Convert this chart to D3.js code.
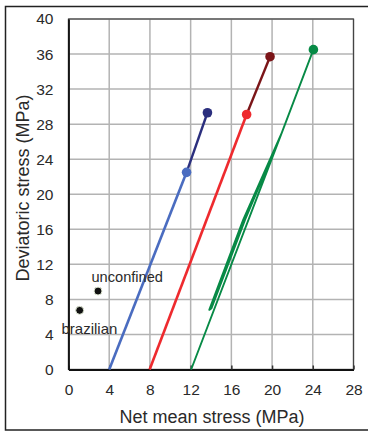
<!DOCTYPE html>
<html><head><meta charset="utf-8">
<script src="https://cdn.jsdelivr.net/npm/d3@7"></script>
<style>body{margin:0;background:#fff;}svg{display:block;font-family:"Liberation Sans",Arial,sans-serif;}</style>
</head><body>
<script>
const xTicks = [0,4,8,12,16,20,24,28];
const yTicks = [0,4,8,12,16,20,24,28,32,36,40];
// stress paths: [net mean stress, deviatoric stress]
const blueLow = [[4.0,0],[11.6,22.5]];
const blueHigh = [[11.6,22.5],[13.65,29.3]];
const redLow = [[7.97,0],[17.5,29.1]];
const redHigh = [[17.5,29.1],[19.8,35.7]];
const greenPath = [[12.05,0],[20.95,27.0],[17.17,17.1],[13.83,6.8],[14.05,7.0],[17.35,17.1],[20.95,27.0],[24.06,36.5]];
const markers = [
  {x:11.6,y:22.5,c:"#4a6cc0"},
  {x:13.65,y:29.3,c:"#2b2f7e"},
  {x:17.5,y:29.1,c:"#ee2a2e"},
  {x:19.8,y:35.7,c:"#7b1518"},
  {x:24.06,y:36.5,c:"#078a46"}
];
const blackPts = [{x:2.9,y:8.95,label:"unconfined"},{x:1.1,y:6.75,label:"brazilian"}];

const W=368,H=433;
const svg=d3.select("body").append("svg").attr("width",W).attr("height",H);
svg.append("rect").attr("x",5.5).attr("y",6.5).attr("width",370).attr("height",423.5)
  .attr("fill","none").attr("stroke","#222").attr("stroke-width",1.5);

const L=68.5,R=353.5,T=19,B=369.5;
const x=d3.scaleLinear().domain([0,28]).range([L,R]);
const y=d3.scaleLinear().domain([0,40]).range([B,T]);

// grid
const g=svg.append("g");
g.selectAll("line.vg").data(xTicks).join("line").attr("x1",d=>x(d)).attr("x2",d=>x(d)).attr("y1",T).attr("y2",B)
  .attr("stroke","#b3b3b3").attr("stroke-width",1.5);
g.selectAll("line.hg").data(yTicks).join("line").attr("y1",d=>y(d)).attr("y2",d=>y(d)).attr("x1",L).attr("x2",R)
  .attr("stroke","#b3b3b3").attr("stroke-width",1.5);
// plot border
svg.append("rect").attr("x",L).attr("y",T).attr("width",R-L).attr("height",B-T).attr("fill","none").attr("stroke","#444").attr("stroke-width",1.2);

// axes
const xa=svg.append("g").attr("transform",`translate(0,${B})`).call(d3.axisBottom(x).tickValues(xTicks).tickSizeInner(-4).tickSizeOuter(0).tickPadding(14));
const ya=svg.append("g").attr("transform",`translate(${L},0)`).call(d3.axisLeft(y).tickValues(yTicks).tickSizeInner(0).tickSizeOuter(0).tickPadding(15));
[xa,ya].forEach(a=>{a.select(".domain").attr("stroke","#111").attr("stroke-width",1.8);
  a.selectAll(".tick line").attr("stroke","#333").attr("stroke-width",1.5);
  a.selectAll("text").attr("font-size",15.5).attr("fill","#2a2a2a").attr("font-family","Liberation Sans, Arial, sans-serif");});

// lines
const line=d3.line().x(d=>x(d[0])).y(d=>y(d[1]));
const series=[[greenPath,"#078a46",1.9],[blueLow,"#4a6cc0",2.6],[blueHigh,"#2b2f7e",2.4],[redLow,"#ee2a2e",2.6],[redHigh,"#7b1518",2.4]];
series.forEach(([d,c,w])=>svg.append("path").attr("d",line(d)).attr("fill","none").attr("stroke",c).attr("stroke-width",w).attr("stroke-linejoin","round"));
svg.selectAll("circle.m").data(markers).join("circle").attr("cx",d=>x(d.x)).attr("cy",d=>y(d.y)).attr("r",4.8).attr("fill",d=>d.c);

svg.selectAll("circle.b").data(blackPts).join("circle").attr("cx",d=>x(d.x)).attr("cy",d=>y(d.y)).attr("r",4)
  .attr("fill","#111").attr("stroke","#e4ecd8").attr("stroke-width",1);
svg.append("text").attr("x",91.5).attr("y",281.5).attr("font-size",14.6).attr("fill","#2a2a2a").text(blackPts[0].label);
svg.append("text").attr("x",61.5).attr("y",334).attr("font-size",15).attr("fill","#2a2a2a").text(blackPts[1].label);

// titles
svg.append("text").attr("x",212).attr("y",423).attr("text-anchor","middle").attr("font-size",18).attr("fill","#2a2a2a").text("Net mean stress (MPa)");
svg.append("text").attr("transform","translate(29,188) rotate(-90)").attr("text-anchor","middle").attr("font-size",18).attr("fill","#2a2a2a").text("Deviatoric stress (MPa)");
</script>
</body></html>
